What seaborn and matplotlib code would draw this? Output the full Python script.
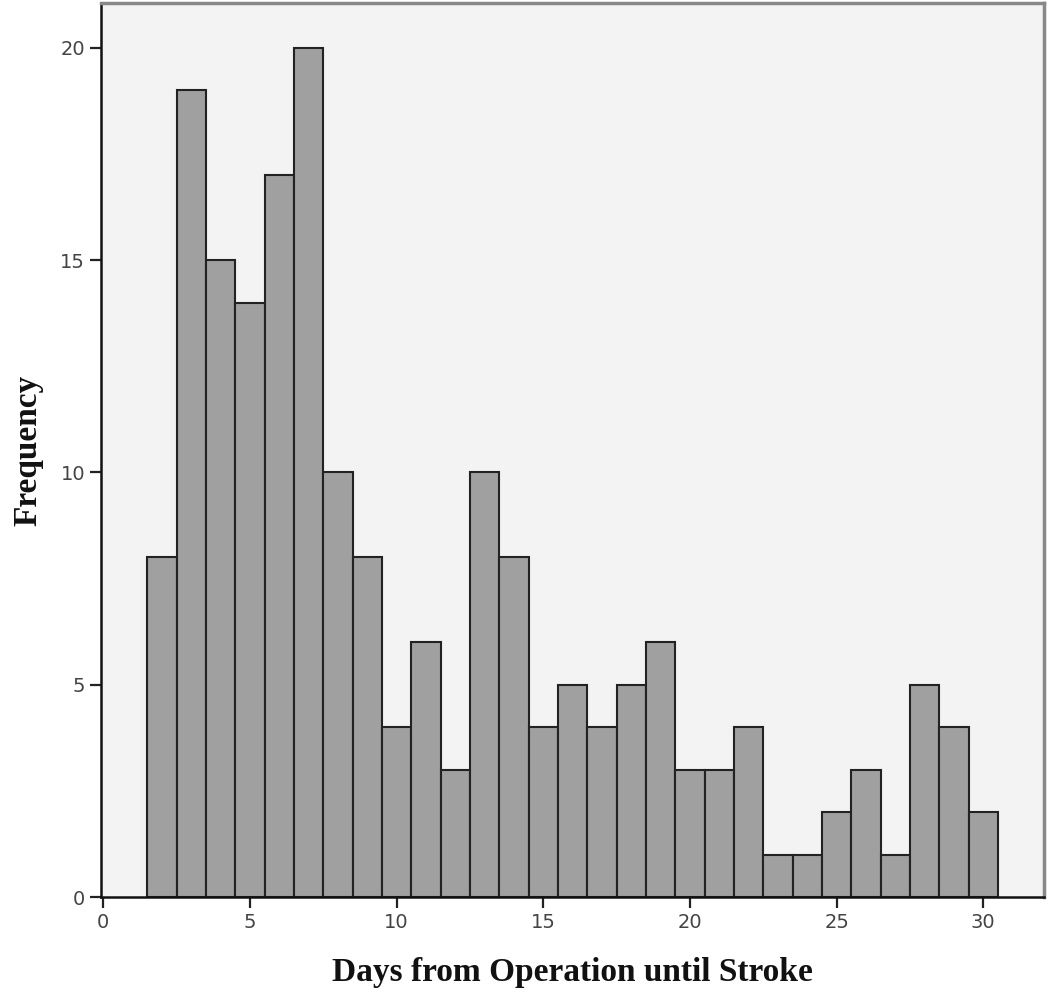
import matplotlib
matplotlib.use('Agg')
import matplotlib.pyplot as plt
import seaborn as sns
import pandas as pd

dias = [2, 3, 4, 5, 6, 7, 8, 9, 10, 11, 12, 13, 14, 15, 16,
        17, 18, 19, 20, 21, 22, 23, 24, 25, 26, 27, 28, 29, 30]
frequencias = [8, 19, 15, 14, 17, 20, 10, 8, 4, 6, 3, 10, 8, 4, 5,
               4, 5, 6, 3, 3, 4, 1, 1, 2, 3, 1, 5, 4, 2]

df = pd.DataFrame({'Dias': dias, 'Frequencia': frequencias})

sns.set_theme(style="white")

fig = plt.figure(figsize=(10.5, 9.99), dpi=100)
ax = fig.add_axes([0.0962, 0.1021, 0.8981, 0.8949])
ax.set_facecolor('#f3f3f3')

sns.histplot(data=df, x='Dias', weights='Frequencia', discrete=True,
             color='#a0a0a0', alpha=1, edgecolor='#222222', linewidth=1.5, ax=ax)

ax.set_xlim(-0.08, 32.07)
ax.set_ylim(0, 21.06)
ax.set_xticks([0, 5, 10, 15, 20, 25, 30])
ax.set_yticks([0, 5, 10, 15, 20])

ax.set_xlabel('Days from Operation until Stroke', fontsize=24, fontweight='bold',
              family='Liberation Serif', color='#111111', labelpad=18)
ax.set_ylabel('Frequency', fontsize=24, fontweight='bold',
              family='Liberation Serif', color='#111111', labelpad=12)

ax.tick_params(axis='both', direction='out', length=8, width=1.6, color='#222222',
               labelsize=14, labelcolor='#444444', bottom=True, left=True)

for lado in ['left', 'bottom']:
    ax.spines[lado].set_color('#111111')
    ax.spines[lado].set_linewidth(1.8)
for lado in ['top', 'right']:
    ax.spines[lado].set_color('#888888')
    ax.spines[lado].set_linewidth(2.5)

fig.savefig('out.png', dpi=100)
